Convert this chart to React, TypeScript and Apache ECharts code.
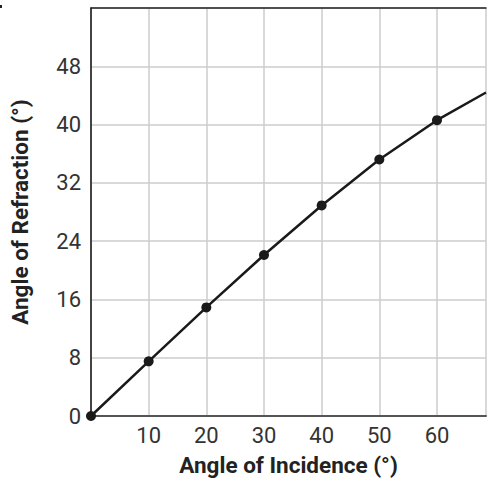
import React, { useEffect, useRef } from "react";
import * as echarts from "echarts";

const incidence = [0, 10, 20, 30, 40, 50, 60, 68.5];
const refraction = [0, 7.5, 14.9, 22.1, 28.9, 35.2, 40.6, 44.4];
const markerCount = 7;
const xTitle = "Angle of Incidence (°)";
const yTitle = "Angle of Refraction (°)";

export default function App() {
  const ref = useRef<HTMLDivElement>(null);
  useEffect(() => {
    if (!ref.current) return;
    document.body.style.margin = "0";
    const chart = echarts.init(ref.current, null, { renderer: "svg" });
    const font = "Roboto";
    const data = incidence.map((x, i) => ({
      value: [x, refraction[i]],
      symbolSize: i < markerCount ? 10 : 0,
    }));
    chart.setOption({
      animation: false,
      backgroundColor: "#ffffff",
      grid: { left: 88, top: 8, right: 0, bottom: 63, containLabel: false },
      xAxis: [
        {
          type: "value",
          min: 0,
          max: 68.5,
          interval: 10,
          name: xTitle,
          nameLocation: "middle",
          nameGap: 37,
          nameTextStyle: { fontFamily: font, fontWeight: "bold", fontSize: 22.5, color: "#222" },
          axisLine: { show: true, lineStyle: { color: "#555", width: 2 } },
          axisTick: { show: false },
          axisLabel: {
            fontFamily: font,
            fontSize: 22,
            color: "#333",
            margin: 8,
            formatter: (v: number) => (v > 0 && v % 10 === 0 ? String(v) : ""),
          },
          splitLine: { show: true, lineStyle: { color: "#cccccc", width: 1.5 } },
        },
        {
          type: "value",
          position: "top",
          min: 0,
          max: 68.5,
          axisLine: { show: true, onZero: false, lineStyle: { color: "#222", width: 1.5 } },
          axisTick: { show: false },
          axisLabel: { show: false },
          splitLine: { show: false },
        },
      ],
      yAxis: {
        type: "value",
        min: 0,
        max: 56,
        interval: 8,
        name: yTitle,
        nameLocation: "middle",
        nameGap: 60,
        nameTextStyle: { fontFamily: font, fontWeight: "bold", fontSize: 22.5, color: "#222" },
        axisLine: { show: true, lineStyle: { color: "#111", width: 1.5 } },
        axisTick: { show: false },
        axisLabel: {
          fontFamily: font,
          fontSize: 22,
          color: "#333",
          margin: 10,
          formatter: (v: number) => (v < 56 ? String(v) : ""),
        },
        splitLine: { show: true, lineStyle: { color: "#cccccc", width: 1.5 } },
      },
      graphic: [
        { type: "rect", shape: { x: 0, y: 5, width: 2, height: 3 }, style: { fill: "#222" } },
      ],
      series: [
        {
          type: "line",
          data,
          symbol: "circle",
          itemStyle: { color: "#1a1a1a" },
          lineStyle: { color: "#1a1a1a", width: 2.5 },
          z: 5,
        },
      ],
    });
    return () => chart.dispose();
  }, []);
  return <div ref={ref} style={{ position: "fixed", left: 0, top: 0, width: 489, height: 481 }} />;
}
